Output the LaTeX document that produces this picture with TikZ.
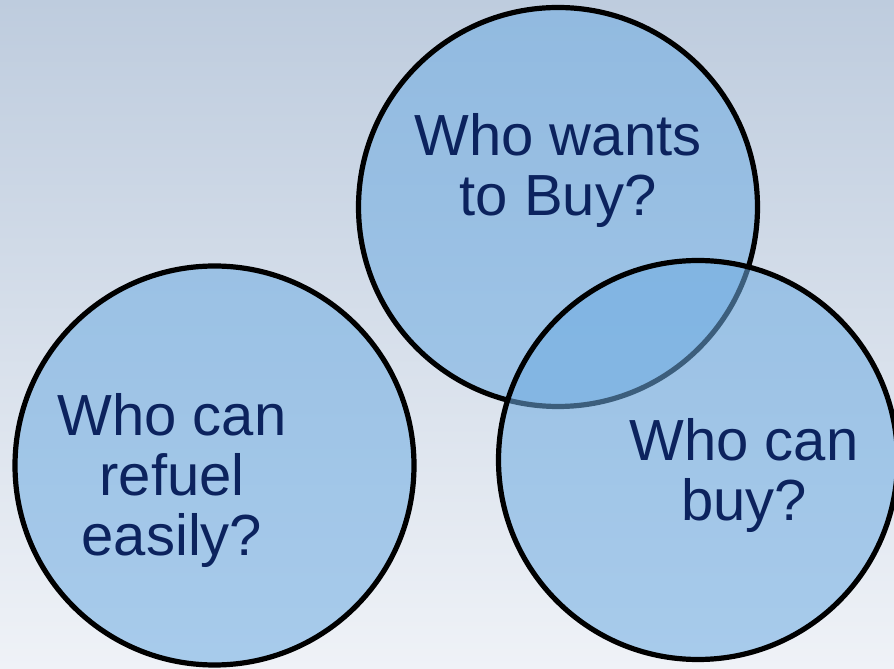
\documentclass[tikz,border=0pt]{standalone}
\usepackage{fontspec}
\setmainfont{Liberation Sans}
\begin{document}
\begin{tikzpicture}[x=1pt,y=1pt,
  bubble/.style={circle, draw=black, line width=5.2pt, fill=bubblefill,
    fill opacity=0.55, draw opacity=1, minimum size=399pt, inner sep=0pt},
  caption/.style={anchor=north, align=center, text=captiontext, inner sep=0pt,
    font=\fontsize{58}{60}\selectfont}]
  \definecolor{bubblefill}{RGB}{110,172,226}
  \definecolor{captiontext}{RGB}{12,35,94}
  \definecolor{bgtop}{RGB}{190,204,222}
  \definecolor{bgbottom}{RGB}{239,242,247}
  \useasboundingbox (0,0) rectangle (894,669);
  \clip (0,0) rectangle (894,669);
  \shade[top color=bgtop, bottom color=bgbottom] (0,0) rectangle (894,669);
  % the three circles; the lower right one lies over the upper one
  \node[bubble] (wants)  at (558,462) {};
  \node[bubble] (refuel) at (214.5,203.5) {};
  \node[bubble] (can)    at (698,209) {};
  % questions
  \node[caption] (wantsText)  at (558,555.5) {Who wants\\to Buy?};
  \node[caption] (refuelText) at (172,275.5) {Who can\\refuel\\easily?};
  \node[caption] (canText)    at (744,250.5) {Who can\\buy?};
\end{tikzpicture}
\end{document}
